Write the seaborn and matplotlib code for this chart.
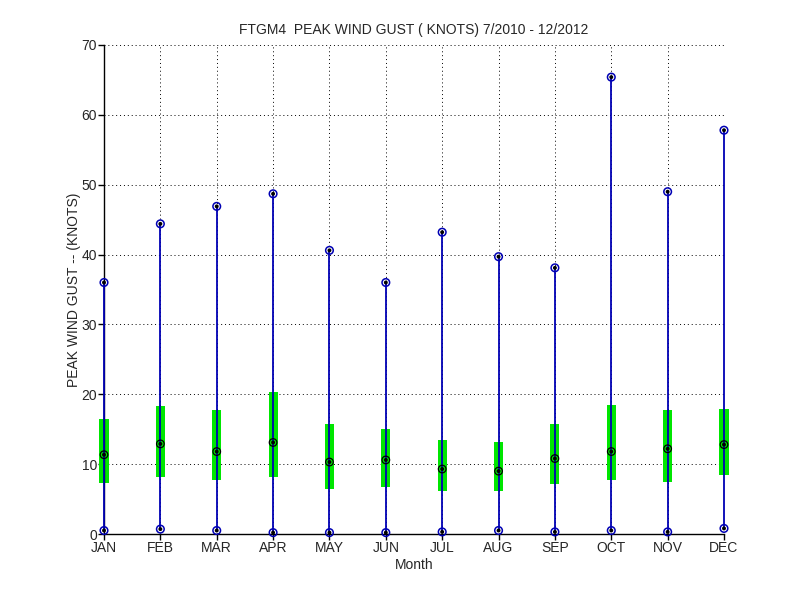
import matplotlib
matplotlib.use("Agg")
import matplotlib.pyplot as plt
import seaborn as sns
import numpy as np
import pandas as pd

months = ["JAN", "FEB", "MAR", "APR", "MAY", "JUN", "JUL", "AUG", "SEP", "OCT", "NOV", "DEC"]
gust_max = [36.0, 44.4, 46.9, 48.7, 40.6, 36.0, 43.2, 39.7, 38.1, 65.4, 49.0, 57.8]
gust_min = [0.5, 0.7, 0.5, 0.2, 0.2, 0.2, 0.3, 0.5, 0.3, 0.5, 0.3, 0.8]
box_low = [7.3, 8.1, 7.7, 8.1, 6.4, 6.7, 6.1, 6.1, 7.1, 7.7, 7.4, 8.4]
box_high = [16.4, 18.3, 17.7, 20.3, 15.7, 15.1, 13.5, 13.1, 15.7, 18.4, 17.7, 17.9]
gust_median = [11.35, 12.9, 11.8, 13.1, 10.3, 10.6, 9.3, 9.0, 10.8, 11.8, 12.2, 12.8]

sns.set_style("white")
plt.rcParams["font.family"] = ["Liberation Sans", "DejaVu Sans"]

pos = np.arange(1, len(months) + 1)
df = pd.DataFrame({"pos": pos, "month": months, "max": gust_max, "min": gust_min,
                   "lo": box_low, "hi": box_high, "med": gust_median})

fig = plt.figure(figsize=(8, 6), dpi=100)
ax = fig.add_axes([0.13, 0.11, 0.775, 0.815])

blue = "#0000b4"
green = "#00e600"

# boxes (25-75%)
ax.bar(df["pos"], df["hi"] - df["lo"], bottom=df["lo"], width=0.16,
       color=green, edgecolor="none", zorder=2, clip_on=False)
# whiskers
ax.vlines(df["pos"], df["min"], df["max"], color=blue, linewidth=1.3, zorder=7,
          clip_on=False)

# extreme markers
for col in ["max", "min"]:
    sns.scatterplot(data=df, x="pos", y=col, ax=ax, s=30, marker="o",
                    facecolor="none", edgecolor=blue, linewidth=1.1, zorder=8,
                    clip_on=False, legend=False)
    sns.scatterplot(data=df, x="pos", y=col, ax=ax, s=8, marker="o",
                    color="black", edgecolor="none", zorder=9,
                    clip_on=False, legend=False)
# median markers
sns.scatterplot(data=df, x="pos", y="med", ax=ax, s=30, marker="o",
                facecolor="none", edgecolor="black", linewidth=0.9, zorder=8,
                clip_on=False, legend=False)
sns.scatterplot(data=df, x="pos", y="med", ax=ax, s=8, marker="o",
                color="black", edgecolor="none", zorder=9, clip_on=False,
                legend=False)

ax.set_xlim(1, 12)
ax.set_ylim(0, 70)
ax.set_xticks(pos)
ax.set_xticklabels(months)
ax.set_yticks(np.arange(0, 71, 10))

ax.grid(True, linestyle=(0, (1, 3)), color="black", linewidth=0.7)
ax.set_axisbelow(True)
for s in ["top", "right"]:
    ax.spines[s].set_visible(False)
for s in ["left", "bottom"]:
    ax.spines[s].set_color("black")
    ax.spines[s].set_linewidth(1.0)
    ax.spines[s].set_zorder(6)
ax.tick_params(axis="both", direction="out", length=4, width=1, color="black",
               labelsize=10, pad=1, left=True, bottom=True)

ax.set_title("FTGM4  PEAK WIND GUST ( KNOTS) 7/2010 - 12/2012", fontsize=10, pad=8)
ax.set_xlabel("Month", fontsize=10, labelpad=2)
ax.set_ylabel("PEAK WIND GUST -- (KNOTS)", fontsize=10, labelpad=0)

fig.savefig("out.png", dpi=100, facecolor="white")
